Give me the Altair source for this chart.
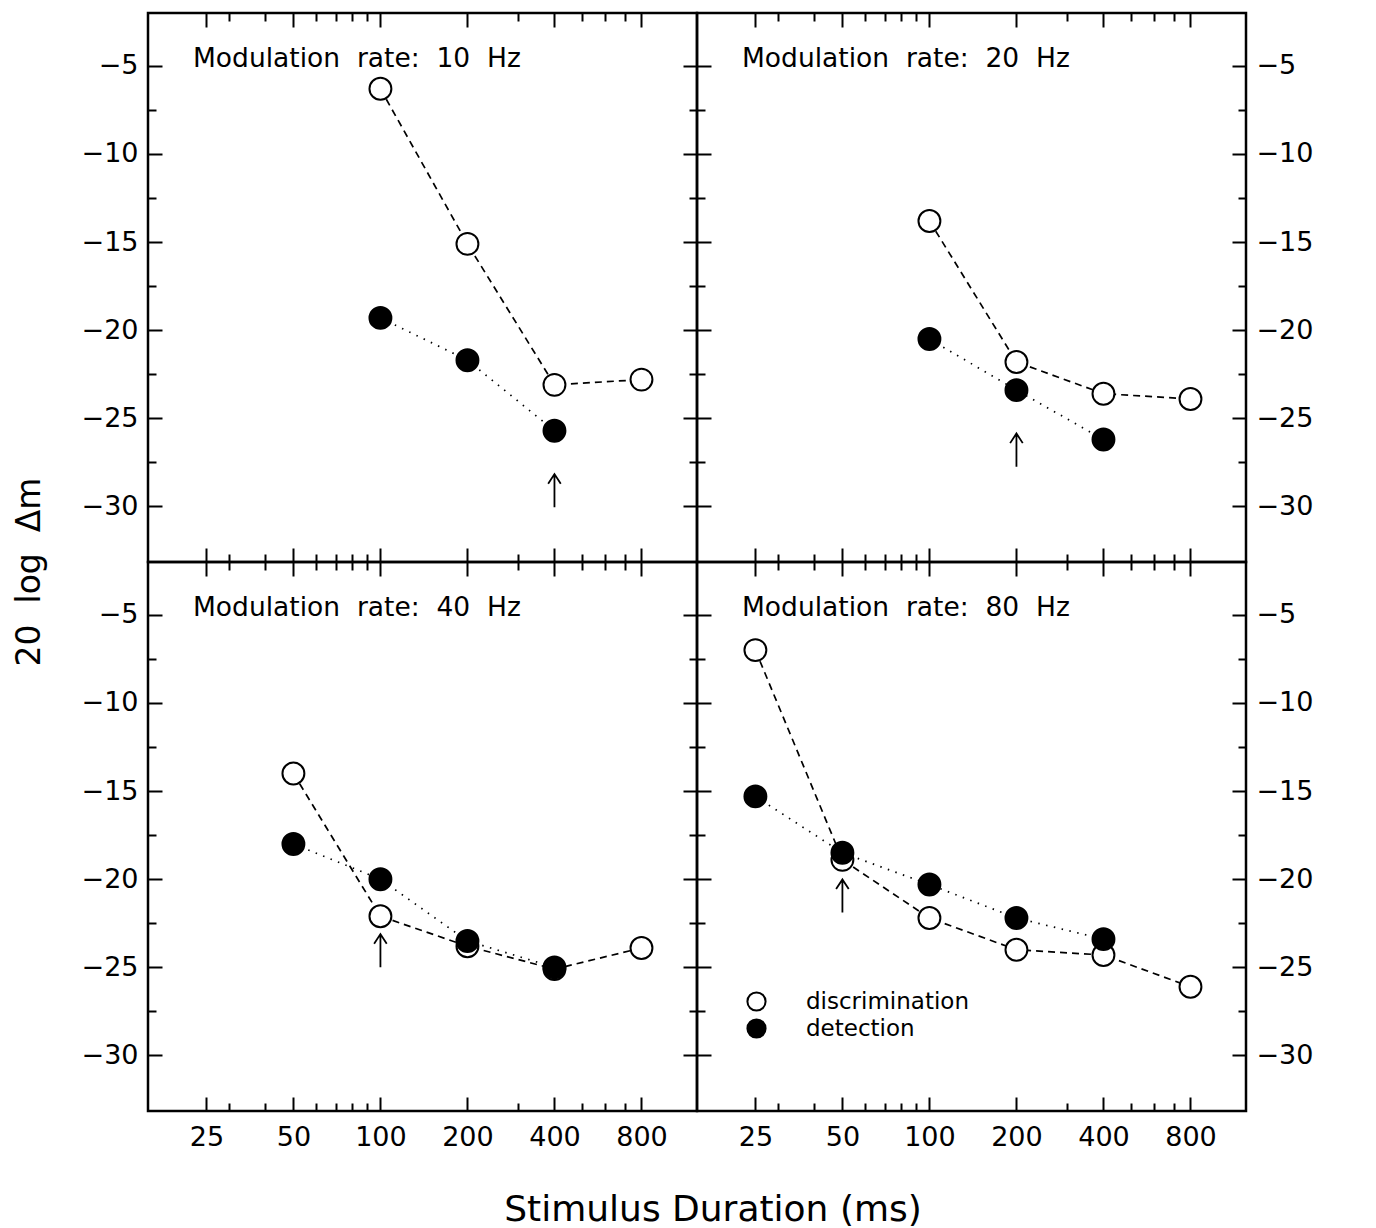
import altair as alt
import pandas as pd

FONT = "DejaVu Sans"
SP2 = "\u00a0 "  # widened word spacing as in the original lettering

# ---- data ----
panel_titles = ["Modulation" + SP2 + "rate:" + SP2 + "10" + SP2 + "Hz",
                "Modulation" + SP2 + "rate:" + SP2 + "20" + SP2 + "Hz",
                "Modulation" + SP2 + "rate:" + SP2 + "40" + SP2 + "Hz",
                "Modulation" + SP2 + "rate:" + SP2 + "80" + SP2 + "Hz"]

disc10_x = [100, 200, 400, 800]
disc10_y = [-6.3, -15.1, -23.1, -22.8]
det10_x = [100, 200, 400]
det10_y = [-19.3, -21.7, -25.7]

disc20_x = [100, 200, 400, 800]
disc20_y = [-13.8, -21.8, -23.6, -23.9]
det20_x = [100, 200, 400]
det20_y = [-20.5, -23.4, -26.2]

disc40_x = [50, 100, 200, 400, 800]
disc40_y = [-14.0, -22.1, -23.8, -25.1, -23.9]
det40_x = [50, 100, 200, 400]
det40_y = [-18.0, -20.0, -23.5, -25.0]

disc80_x = [25, 50, 100, 200, 400, 800]
disc80_y = [-7.0, -18.9, -22.2, -24.0, -24.3, -26.1]
det80_x = [25, 50, 100, 200, 400]
det80_y = [-15.3, -18.5, -20.3, -22.2, -23.4]

arrow_x = [400, 200, 100, 50]
arrow_y = [-29.1, -26.8, -24.05, -20.95]

x_major = [25, 50, 100, 200, 400, 800]
x_minor = [30, 40, 60, 70, 80, 90, 300, 500, 600, 700]
y_major = [-30, -25, -20, -15, -10, -5]
y_minor = [-27.5, -22.5, -17.5, -12.5, -7.5]

series_names = ["discrimination", "detection"]

X_DOMAIN = [15.7, 1245]
Y_DOMAIN = [-33.15, -2.0]
W = 549
H = 549
ARROW = "M0,1L0,-1M-0.38,-0.42L0,-1L0.38,-0.42"


def make_df(dx, dy, tx, ty):
    rows = [{"dur": x, "val": y, "series": series_names[0]} for x, y in zip(dx, dy)]
    rows += [{"dur": x, "val": y, "series": series_names[1]} for x, y in zip(tx, ty)]
    return pd.DataFrame(rows)


def axis_common(size, labels, pad):
    return dict(tickSize=size, offset=-size, domain=False, grid=False,
                labels=labels, title=None, labelPadding=pad,
                labelFlush=False, labelOverlap=False,
                labelFont=FONT, labelFontSize=27, labelColor="black",
                tickColor="black", tickWidth=2)


def axis_x(orient, major, labels):
    size = 14 if major else 8
    return alt.Axis(orient=orient, values=x_major if major else x_minor,
                    format="d", **axis_common(size, labels, 13))


def axis_y(orient, major, labels):
    size = 14 if major else 8
    return alt.Axis(orient=orient, values=y_major if major else y_minor,
                    **axis_common(size, labels, 10))


def panel(title, dx, dy, tx, ty, ax, ay, left_lab, right_lab, bottom_lab, legend):
    df = make_df(dx, dy, tx, ty)
    xs = alt.Scale(type="log", domain=X_DOMAIN, nice=False)
    ys = alt.Scale(domain=Y_DOMAIN, nice=False, zero=False)
    base = alt.Chart(df)

    disc = base.transform_filter(alt.datum.series == series_names[0]).mark_line(
        color="black", strokeWidth=1.7, strokeDash=[7, 5]
    ).encode(
        x=alt.X("dur:Q", scale=xs, axis=axis_x("bottom", True, bottom_lab)),
        y=alt.Y("val:Q", scale=ys, axis=axis_y("left", True, left_lab)),
    )
    det = base.transform_filter(alt.datum.series == series_names[1]).mark_line(
        color="black", strokeWidth=1.7, strokeDash=[1.5, 6.5]
    ).encode(
        x=alt.X("dur:Q", scale=xs, axis=axis_x("top", True, False)),
        y=alt.Y("val:Q", scale=ys, axis=axis_y("right", True, right_lab)),
    )
    if legend:
        leg = alt.Legend(title=None, orient="none", legendX=48, legendY=428,
                         labelFontSize=23, labelFont=FONT, labelColor="black",
                         labelLimit=400,
                         symbolType="circle", symbolSize=330,
                         symbolStrokeColor="black", symbolStrokeWidth=2,
                         labelOffset=38, rowPadding=0)
    else:
        leg = None
    pts = base.mark_point(
        shape="circle", filled=True, size=480, stroke="black", strokeWidth=2, opacity=1
    ).encode(
        x=alt.X("dur:Q", scale=xs, axis=axis_x("bottom", False, False)),
        y=alt.Y("val:Q", scale=ys, axis=axis_y("left", False, False)),
        fill=alt.Fill("series:N",
                      scale=alt.Scale(domain=series_names, range=["white", "black"]),
                      legend=leg),
    )
    arrow = alt.Chart(pd.DataFrame({"dur": [ax], "val": [ay]})).mark_point(
        shape=ARROW, filled=False, size=1100, stroke="black", strokeWidth=1.8, opacity=1
    ).encode(
        x=alt.X("dur:Q", scale=xs, axis=axis_x("top", False, False)),
        y=alt.Y("val:Q", scale=ys, axis=axis_y("right", False, False)),
    )
    label = alt.Chart(pd.DataFrame({"t": [title]})).mark_text(
        align="left", baseline="middle", fontSize=26.5, font=FONT, color="black"
    ).encode(text="t:N", x=alt.value(45), y=alt.value(46))

    return alt.layer(disc, det, pts, arrow, label).resolve_axis(
        x="independent", y="independent"
    ).properties(width=W, height=H)


p10 = panel(panel_titles[0], disc10_x, disc10_y, det10_x, det10_y, arrow_x[0], arrow_y[0],
            True, False, False, False)
p20 = panel(panel_titles[1], disc20_x, disc20_y, det20_x, det20_y, arrow_x[1], arrow_y[1],
            False, True, False, False)
p40 = panel(panel_titles[2], disc40_x, disc40_y, det40_x, det40_y, arrow_x[2], arrow_y[2],
            True, False, True, False)
p80 = panel(panel_titles[3], disc80_x, disc80_y, det80_x, det80_y, arrow_x[3], arrow_y[3],
            False, True, True, True)

grid = alt.concat(p10, p20, p40, p80, columns=2, spacing=0, bounds="flush").resolve_scale(
    fill="independent"
).properties(
    title=alt.TitleParams("20" + SP2 + "log" + SP2 + "Δm", orient="left", anchor="middle",
                          fontSize=33, font=FONT, fontWeight="normal", color="black",
                          offset=33, dx=9)
)

chart = alt.vconcat(grid).properties(
    background="white",
    padding={"left": 5, "top": 2, "right": 5, "bottom": 5},
    title=alt.TitleParams("Stimulus Duration (ms)", orient="bottom", anchor="middle",
                          fontSize=36, font=FONT, fontWeight="normal", color="black",
                          offset=42, dx=49)
).configure_view(
    stroke="black", strokeWidth=2.5
)

chart.save("out.html", embed_options={"renderer": "svg", "actions": False})
